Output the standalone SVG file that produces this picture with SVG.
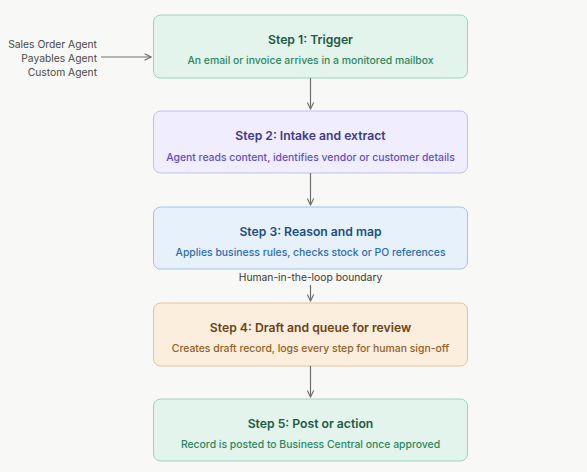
<svg xmlns="http://www.w3.org/2000/svg" width="587" height="472" viewBox="0 0 587 472">
<defs>
<style>
text{font-family:"Inter","Open Sans","Liberation Sans",sans-serif;}
.t{font-size:12.2px;font-weight:600;text-anchor:middle;}
.s{font-size:10.4px;font-weight:500;text-anchor:middle;}
.l{font-size:10.3px;fill:#4a4a48;}
.box{stroke-width:1;}
.g .box{fill:#e2f4ec;stroke:#9ed3bb;}
.g .t{fill:#1e5a43;}
.g .s{fill:#2b8760;}
.p .box{fill:#efedfe;stroke:#c3bdf0;}
.p .t{fill:#3e388c;}
.p .s{fill:#634ecb;}
.b .box{fill:#e6f1fc;stroke:#a3c3e6;}
.b .t{fill:#1c4e80;}
.b .s{fill:#2d6db0;}
.o .box{fill:#fbeedd;stroke:#e2c49d;}
.o .t{fill:#6a4312;}
.o .s{fill:#93601f;}
.c line{stroke:#6e6e6c;stroke-width:1.2;}
</style>
<marker id="ah" viewBox="0 0 10 10" refX="9" refY="5" markerWidth="8" markerHeight="8" markerUnits="userSpaceOnUse" orient="auto">
<path d="M1,1 L9,5 L1,9" fill="none" stroke="#6e6e6c" stroke-width="1.4"/>
</marker>
</defs>
<rect width="587" height="472" fill="#f8f8f6"/>
<g id="agents">
<text class="l" x="97" y="48" text-anchor="end">Sales Order Agent</text>
<text class="l" x="97" y="62" text-anchor="end">Payables Agent</text>
<text class="l" x="97" y="76" text-anchor="end">Custom Agent</text>
</g>
<g id="step1" class="g">
<rect class="box" x="153.5" y="15" width="314" height="63" rx="7"/>
<text class="t" x="310.5" y="44">Step 1: Trigger</text>
<text class="s" x="310.5" y="64">An email or invoice arrives in a monitored mailbox</text>
</g>
<g id="step2" class="p">
<rect class="box" x="153.5" y="111" width="314" height="62" rx="7"/>
<text class="t" x="310.5" y="140">Step 2: Intake and extract</text>
<text class="s" x="310.5" y="161">Agent reads content, identifies vendor or customer details</text>
</g>
<g id="step3" class="b">
<rect class="box" x="153.5" y="207" width="314" height="62" rx="7"/>
<text class="t" x="310.5" y="236">Step 3: Reason and map</text>
<text class="s" x="310.5" y="256">Applies business rules, checks stock or PO references</text>
</g>
<g id="step4" class="o">
<rect class="box" x="153.5" y="303" width="314" height="63" rx="7"/>
<text class="t" x="310.5" y="332">Step 4: Draft and queue for review</text>
<text class="s" x="310.5" y="352">Creates draft record, logs every step for human sign-off</text>
</g>
<g id="step5" class="g">
<rect class="box" x="153.5" y="399" width="314" height="62" rx="7"/>
<text class="t" x="310.5" y="428">Step 5: Post or action</text>
<text class="s" x="310.5" y="448">Record is posted to Business Central once approved</text>
</g>
<g id="connectors" class="c">
<line x1="101" y1="57" x2="151" y2="57" marker-end="url(#ah)"/>
<line x1="310.5" y1="78" x2="310.5" y2="109" marker-end="url(#ah)"/>
<line x1="310.5" y1="173" x2="310.5" y2="205" marker-end="url(#ah)"/>
<line x1="310.5" y1="285" x2="310.5" y2="301" marker-end="url(#ah)"/>
<line x1="310.5" y1="366" x2="310.5" y2="397" marker-end="url(#ah)"/>
<text class="l" x="310.5" y="281" text-anchor="middle" style="fill:#3a3a38">Human-in-the-loop boundary</text>
</g>
</svg>
